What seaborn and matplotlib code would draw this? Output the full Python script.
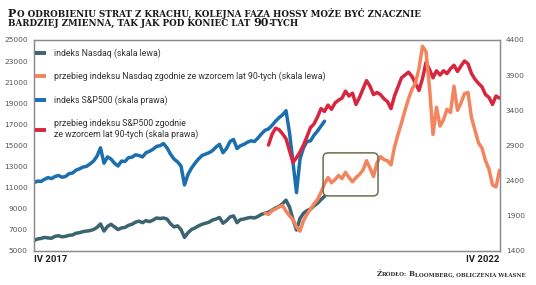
import numpy as np
import pandas as pd
import matplotlib
matplotlib.use("Agg")
import matplotlib.pyplot as plt
import seaborn as sns
from matplotlib.patches import FancyBboxPatch
from matplotlib.lines import Line2D

# ---------------- data (one step ~ two weeks, index 0 = IV 2017) ----------------
x_labels = ["IV 2017", "IV 2022"]
x_end = 133

nasdaq_start = 0
nasdaq = [5900, 6050, 6100, 6200, 6150, 6120, 6300, 6360, 6250, 6300,
          6400, 6430, 6600, 6650, 6750, 6800, 6850, 6950, 7150, 7480,
          6800, 7250, 7450, 7200, 6950, 7100, 7150, 7350, 7450, 7650,
          7750, 7600, 7800, 7700, 7850, 8050, 8000, 8050, 7950, 7500,
          7200, 7300, 6950, 6200, 6650, 6950, 7100, 7300, 7450, 7550,
          7650, 7850, 7950, 8100, 7550, 7800, 8150, 8250, 7600, 7900,
          7950, 8050, 8100, 8050, 8200, 8400, 8500, 8600, 8800, 9000,
          9150, 9400, 9750, 9100, 7900, 6900, 8000, 8500, 8750, 8900,
          9200, 9450, 9800, 10100]

sp500_start = 0
sp500 = [2360, 2385, 2380, 2410, 2435, 2420, 2450, 2465, 2440, 2450,
         2490, 2500, 2540, 2560, 2585, 2595, 2630, 2670, 2740, 2860,
         2640, 2730, 2700, 2640, 2600, 2670, 2665, 2720, 2725, 2760,
         2750, 2730, 2790, 2810, 2840, 2880, 2890, 2920, 2860, 2770,
         2700, 2660, 2600, 2330, 2480, 2570, 2640, 2700, 2750, 2770,
         2790, 2820, 2870, 2910, 2790, 2850, 2950, 2980, 2850, 2890,
         2910, 2940, 2960, 2950, 3000, 3060, 3110, 3130, 3180, 3240,
         3290, 3330, 3390, 3080, 2650, 2220, 2700, 2860, 2950, 2960,
         3040, 3100, 3170, 3240]

nasdaq_90s_start = 66
nasdaq_90s = [8500, 8400, 8750, 8900, 9100, 9250, 8700, 8250, 7900, 7200,
              6800, 7800, 8400, 8900, 9400, 9800, 10500, 11300, 11900, 11400,
              11700, 12100, 11800, 12400, 11900, 11500, 11900, 12200, 12600, 13500,
              12800, 12000, 13300, 13900, 13600, 13500, 13100, 14800, 16000, 17100,
              18300, 19400, 20300, 20900, 22300, 24400, 23900, 20500, 16000, 18600,
              16800, 17400, 18400, 18100, 20600, 18300, 19000, 19900, 20000, 17600,
              16400, 15200, 14700, 13500, 12700, 11200, 11000, 12600]

sp500_90s_start = 67
sp500_90s = [2900, 3050, 3140, 3120, 3060, 2990, 2820, 2650, 2720, 2800,
             2900, 3020, 3150, 3200, 3300, 3420, 3380, 3470, 3410, 3500,
             3540, 3570, 3670, 3600, 3640, 3480, 3580, 3700, 3820, 3740,
             3620, 3650, 3620, 3560, 3520, 3420, 3600, 3730, 3860, 3900,
             3940, 3880, 3780, 3680, 3850, 4080, 3980, 3860, 3960, 3900,
             3960, 3920, 3990, 4040, 3950, 4030, 4100, 4060, 3920, 3840,
             3780, 3730, 3620, 3580, 3480, 3600, 3570]

left_ticks = list(range(5000, 25001, 2000))
right_ticks = list(range(1400, 4401, 500))
left_lim = (4905, 25000)
right_lim = (1386, 4400)

highlight_x = (82.6, 98.3)
highlight_y = (10150, 14250)

labels = ["indeks Nasdaq (skala lewa)",
          "przebieg indeksu Nasdaq zgodnie ze wzorcem lat 90-tych (skala lewa)",
          "indeks S&P500 (skala prawa)",
          "przebieg indeksu S&P500 zgodnie\nze wzorcem lat 90-tych (skala prawa)"]
colors = ["#3b6470", "#f3845e", "#1b6fae", "#d7263f"]

title_line1 = [("P", 8.0, 0), ("O ODROBIENIU STRAT Z KRACHU, KOLEJNA FAZA HOSSY MOŻE BYĆ ZNACZNIE", 6.3, 0.6)]
title_line2 = [("BARDZIEJ ZMIENNA, TAK JAK POD KONIEC LAT", 6.3, 0), ("90", 8.0, 2.8), ("-TYCH", 6.3, 0.4)]
source_line = [("Ź", 5.0, 0), ("RÓDŁO:", 4.0, 0.3), ("B", 5.0, 2.2), ("LOOMBERG, OBLICZENIA WŁASNE", 4.0, 0.3)]

# ---------------- style ----------------
sns.set_style("white")
plt.rcParams['font.family'] = ['DejaVu Sans']
narrow = ['Liberation Sans Narrow', 'Roboto', 'DejaVu Sans']
serif = ['DejaVu Serif']

W, H = 536, 285
fig = plt.figure(figsize=(W / 100, H / 100), dpi=100)
ax = fig.add_axes([34 / W, 1 - 251 / H, 465.5 / W, 211 / H])
ax2 = ax.twinx()
ax.set_zorder(ax2.get_zorder() + 1)
ax.patch.set_visible(False)

def frame(name, start, vals):
    return pd.DataFrame({"t": np.arange(len(vals)) + start, name: vals})

lw = 2.5
sns.lineplot(data=frame("v", sp500_start, sp500), x="t", y="v", ax=ax2,
             color=colors[2], linewidth=lw, legend=False)
sns.lineplot(data=frame("v", sp500_90s_start, sp500_90s), x="t", y="v", ax=ax2,
             color=colors[3], linewidth=lw, legend=False)
sns.lineplot(data=frame("v", nasdaq_start, nasdaq), x="t", y="v", ax=ax,
             color=colors[0], linewidth=lw, legend=False)
sns.lineplot(data=frame("v", nasdaq_90s_start, nasdaq_90s), x="t", y="v", ax=ax,
             color=colors[1], linewidth=lw, legend=False)

ax.set_xlim(0, x_end)
ax.set_ylim(*left_lim)
ax2.set_ylim(*right_lim)
ax.set_yticks(left_ticks)
ax.set_yticklabels([str(v) for v in left_ticks])
ax2.set_yticks(right_ticks)
ax2.set_yticklabels([str(v) for v in right_ticks])
for a in (ax, ax2):
    a.set_xlabel("")
    a.set_ylabel("")
    a.tick_params(length=0)
    for s in a.spines.values():
        s.set_color("#8a8a8a")
        s.set_linewidth(0.9)
ax.tick_params(axis='y', labelsize=5.4, labelcolor="#555555", pad=4.5)
ax2.tick_params(axis='y', labelsize=5.4, labelcolor="#555555", pad=4.5)
ax.set_xticks([0, x_end])
ax.set_xticklabels(x_labels)
ax.tick_params(axis='x', labelsize=6.8, labelcolor="#222222", pad=3)
xt = ax.get_xticklabels()
for lbl in xt:
    lbl.set_family(narrow)
    lbl.set_fontweight('bold')
xt[0].set_ha('left')
xt[1].set_ha('right')

# highlight box
px_x = 465.5 / x_end
px_y = 211 / (left_lim[1] - left_lim[0])
rs = 5 / px_x
box = FancyBboxPatch((highlight_x[0], highlight_y[0]), highlight_x[1] - highlight_x[0],
                     highlight_y[1] - highlight_y[0],
                     boxstyle=f"round,pad=0,rounding_size={rs}",
                     mutation_aspect=px_x / px_y, fill=False, ec="#6b7048", lw=1.1, zorder=5)
ax.add_patch(box)

# legend
handles = [Line2D([], [], color=c, lw=2.8, solid_capstyle='butt') for c in colors]
leg = ax.legend(handles, labels, loc='upper left', bbox_to_anchor=(0, 1 - 7 / 211),
                frameon=False, borderaxespad=0, borderpad=0.15, handlelength=1.2,
                handletextpad=0.9, labelspacing=1.6,
                prop=dict(family=narrow, size=6.3))
for t in leg.get_texts():
    t.set_color("#333333")

# title / source text
renderer = fig.canvas.get_renderer()

def chain(x_px, base_px, pieces, **kw):
    texts = []
    x = x_px
    for s, size, gap in pieces:
        x += gap
        t = fig.text(x / W, 1 - base_px / H, s, fontsize=size, va='baseline', ha='left',
                     family=serif, fontweight='bold', **kw)
        x = t.get_window_extent(renderer).x1
        texts.append(t)
    return texts, x

chain(8, 16.8, title_line1, color="#1a1a1a")
chain(8, 26.3, title_line2, color="#1a1a1a")
texts, end = chain(380, 276.5, source_line, color="#333333")
shift = (526 - end) / W
for t in texts:
    px, py = t.get_position()
    t.set_position((px + shift, py))

fig.savefig("out.png", dpi=100)
